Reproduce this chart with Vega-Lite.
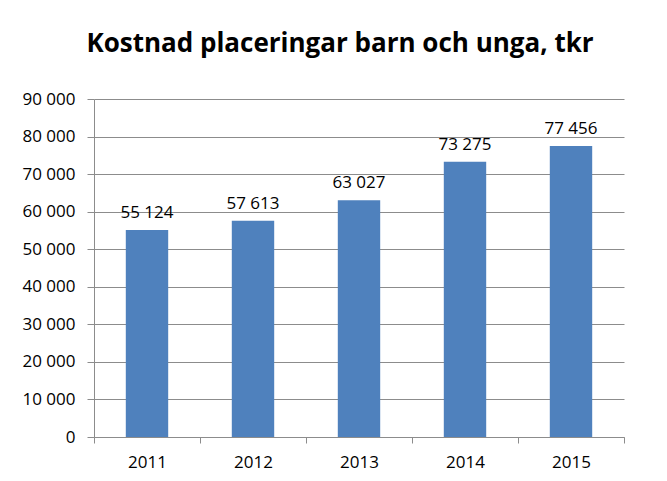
{
  "$schema": "https://vega.github.io/schema/vega-lite/v6.json",
  "autosize": "none",
  "width": 530,
  "height": 338,
  "padding": {"left": 94, "top": 99, "right": 43, "bottom": 44},
  "background": "white",
  "config": {
    "locale": {"number": {"decimal": ",", "thousands": " ", "grouping": [3], "currency": ["", ""]}},
    "view": {"stroke": null},
    "font": "Open Sans"
  },
  "title": {
    "text": "Kostnad placeringar barn och unga, tkr",
    "font": "Open Sans",
    "fontSize": 26,
    "fontWeight": "bold",
    "color": "#000000",
    "anchor": "middle",
    "baseline": "alphabetic",
    "dx": -19,
    "offset": 12
  },
  "data": {
    "values": [
      {"year": "2011", "value": 55124},
      {"year": "2012", "value": 57613},
      {"year": "2013", "value": 63027},
      {"year": "2014", "value": 73275},
      {"year": "2015", "value": 77456}
    ]
  },
  "encoding": {
    "x": {
      "field": "year",
      "type": "nominal",
      "scale": {"paddingInner": 0, "paddingOuter": 0},
      "axis": {
        "title": null,
        "labelAngle": 0,
        "tickBand": "extent",
        "tickSize": 6,
        "labelPadding": 11,
        "labelFontSize": 17,
        "labelColor": "#000000",
        "domainColor": "#8c8c8c",
        "tickColor": "#8c8c8c",
        "grid": false
      }
    },
    "y": {
      "field": "value",
      "type": "quantitative",
      "scale": {"domain": [0, 90000], "nice": false},
      "axis": {
        "title": null,
        "values": [0, 10000, 20000, 30000, 40000, 50000, 60000, 70000, 80000, 90000],
        "format": ",d",
        "tickSize": 7,
        "labelPadding": 12,
        "labelFontSize": 17,
        "labelColor": "#000000",
        "domainColor": "#8c8c8c",
        "tickColor": "#8c8c8c",
        "gridColor": "#8c8c8c",
        "grid": true
      }
    }
  },
  "layer": [
    {"mark": {"type": "bar", "width": {"band": 0.4}, "color": "#4F81BD"}},
    {
      "mark": {"type": "text", "baseline": "alphabetic", "dy": -12, "fontSize": 17, "color": "#000000", "font": "Open Sans"},
      "encoding": {"text": {"field": "value", "type": "quantitative", "format": ",d"}}
    }
  ]
}
